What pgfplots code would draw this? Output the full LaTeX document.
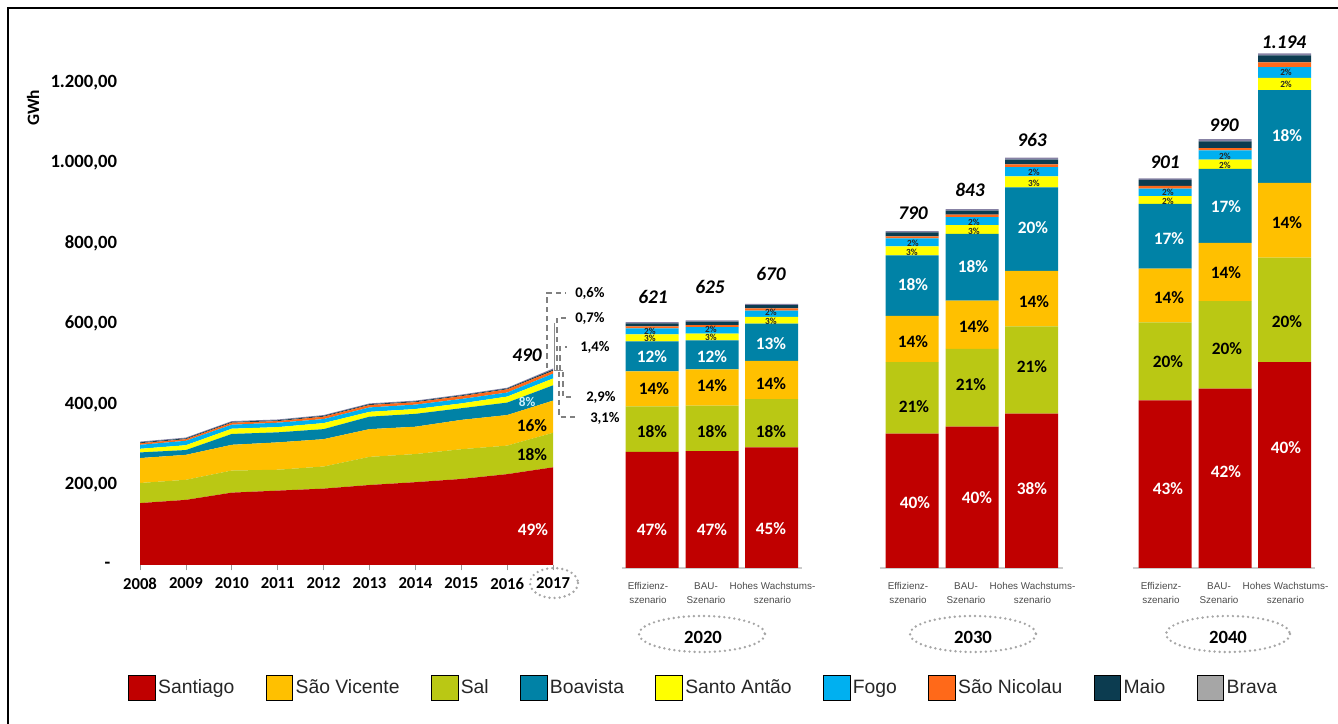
\documentclass[border=0pt]{standalone}
\usepackage{pgfplots}
\pgfplotsset{compat=1.18}
\usepackage{pgfplotstable}
\usepackage{fontspec}
\setmainfont{Carlito}
\newfontfamily\arial{Liberation Sans}

\definecolor{cSant}{RGB}{192,0,0}
\definecolor{cSV}{RGB}{255,192,0}
\definecolor{cSal}{RGB}{186,200,20}
\definecolor{cBoa}{RGB}{0,130,166}
\definecolor{cSA}{RGB}{255,255,0}
\definecolor{cFogo}{RGB}{0,176,240}
\definecolor{cSN}{RGB}{255,105,25}
\definecolor{cMaio}{RGB}{12,60,80}
\definecolor{cBrava}{RGB}{166,166,166}
\definecolor{cBravaBar}{RGB}{135,130,165}

% historic consumption 2008-2017 (x = year - 2008), GWh
\pgfplotstableread{
x sant sal sv boa sa fogo sn maio brava
0 154 50 62 14 9  10 4 2 2
1 162 50 62 12 12 11 4 2 2
2 180 55 64 27 13 10 5 2 2
3 185 52 68 25 13 11 4 2 2
4 190 55 68 25 15 10 6 2 2
5 199 70 69 31 12 11 6 2 2
6 206 70 68 32 12 11 6 2 2
7 214 74 73 29 12 11 7 2 2
8 226 71 76 31 15 10 8 2 2
9 243 86 80 38 17 12 7 3 3
}\areadata

% scenarios 2020 / 2030 / 2040 (Effizienz, BAU, Hohes Wachstum)
\pgfplotstableread{
x      sant sal sv  boa sa fogo sn  maio brava
11.155 289  113 87  75  17 15   5   7.5  3.3
12.462 291  113 90  72  17 16   5   9    3.3
13.758 300  120 95  93  17 15   6   8    3.3
16.819 334  178 115 151 22 20   5   10   3.3
18.126 352  193 120 166 22 20   6   10   4
19.423 384  217 138 208 27 23   7   12   5
22.331 417  194 134 161 19 19   6.5 15   4
23.638 446  218 145 184 23 23   5.5 17   5.5
24.935 512  260 186 231 30 27   12  17   5.5
}\bardata

\pgfplotsset{
  base/.style={scale only axis, width=881.3pt, height=388.9pt,
    xmin=0, xmax=25.6, ymin=0, ymax=1290, anchor=south west},
}

\begin{document}
\begin{tikzpicture}
\path[use as bounding box] (0,0) rectangle (1003.5pt,543pt);

% historic stacked area
\begin{axis}[base, at={(105pt,119.25pt)},
  stack plots=y,
  axis x line=bottom, axis y line=left,
  axis line style={draw=none,-},
  tick align=outside,
  xtick={0,...,9},
  xticklabels={2008,2009,2010,2011,2012,2013,2014,2015,2016,2017},
  ytick={0,200,...,1200},
  yticklabels={{-\hspace*{5pt}},{200,00},{400,00},{600,00},{800,00},{1.000,00},{1.200,00}},
  ytick style={draw=none},
  xtick style={draw=black!40, line width=0.6pt},
  major tick length=4pt,
  x tick label style={font=\bfseries\fontsize{12.5}{14}\selectfont, yshift=-2pt},
  y tick label style={font=\bfseries\fontsize{14}{16}\selectfont, anchor=east, inner sep=0pt, xshift=-13pt},
]
\addplot[fill=cSant, draw=none] table[x=x, y=sant] {\areadata} \closedcycle;
\addplot[fill=cSal, draw=none] table[x=x, y=sal] {\areadata} \closedcycle;
\addplot[fill=cSV, draw=none] table[x=x, y=sv] {\areadata} \closedcycle;
\addplot[fill=cBoa, draw=none] table[x=x, y=boa] {\areadata} \closedcycle;
\addplot[fill=cSA, draw=none] table[x=x, y=sa] {\areadata} \closedcycle;
\addplot[fill=cFogo, draw=none] table[x=x, y=fogo] {\areadata} \closedcycle;
\addplot[fill=cSN, draw=none] table[x=x, y=sn] {\areadata} \closedcycle;
\addplot[fill=cMaio, draw=none] table[x=x, y=maio] {\areadata} \closedcycle;
\addplot[fill=cBravaBar, draw=none] table[x=x, y=brava] {\areadata} \closedcycle;
\draw[black!40, line width=0.6pt] (axis cs:0,0) -- (axis cs:9,0);
\end{axis}

% scenario stacked bars
\begin{axis}[base, at={(105pt,117pt)}, hide axis, clip=false,
  ybar stacked, bar width=1.155]
\addplot[fill=cSant, draw=none] table[x=x, y=sant] {\bardata};
\addplot[fill=cSal, draw=none] table[x=x, y=sal] {\bardata};
\addplot[fill=cSV, draw=none] table[x=x, y=sv] {\bardata};
\addplot[fill=cBoa, draw=none] table[x=x, y=boa] {\bardata};
\addplot[fill=cSA, draw=none] table[x=x, y=sa] {\bardata};
\addplot[fill=cFogo, draw=none] table[x=x, y=fogo] {\bardata};
\addplot[fill=cSN, draw=none] table[x=x, y=sn] {\bardata};
\addplot[fill=cMaio, draw=none] table[x=x, y=maio] {\bardata};
\addplot[fill=cBravaBar, draw=none] table[x=x, y=brava] {\bardata};
\draw[black!20, line width=0.8pt] (axis cs:10.5,0) -- (axis cs:14.42,0);
\draw[black!20, line width=0.8pt] (axis cs:16.12,0) -- (axis cs:20.11,0);
\draw[black!20, line width=0.8pt] (axis cs:21.63,0) -- (axis cs:25.6,0);
\end{axis}

% legend
\begin{axis}[base, at={(105pt,119.25pt)}, hide axis,
  legend columns=9,
  legend image code/.code={\fill[#1] (0pt,-9.5pt) rectangle (20pt,9.5pt);},
  legend style={at={(0,0)}, anchor=west, xshift=-9pt, yshift=-92pt,
    draw=none, fill=none, inner sep=0pt,
    font=\arial\fontsize{14.5}{16}\selectfont, text=black!85,
    /tikz/every even column/.append style={column sep=21.5pt}},
]
\addplot[draw=none, forget plot] coordinates {(0,0)};
\addlegendimage{fill=cSant}\addlegendentry{Santiago}
\addlegendimage{fill=cSV}\addlegendentry{São Vicente}
\addlegendimage{fill=cSal}\addlegendentry{Sal}
\addlegendimage{fill=cBoa}\addlegendentry{Boavista}
\addlegendimage{fill=cSA}\addlegendentry{Santo Antão}
\addlegendimage{fill=cFogo}\addlegendentry{Fogo}
\addlegendimage{fill=cSN}\addlegendentry{São Nicolau}
\addlegendimage{fill=cMaio}\addlegendentry{Maio}
\addlegendimage{fill=cBrava}\addlegendentry{Brava}
\end{axis}

% annotations, in pixel coordinates of the 1338x724 frame
\begin{scope}[x=0.75pt, y=-0.75pt, yshift=543pt,
  w/.style={font=\bfseries\fontsize{13}{15}\selectfont, text=white, inner sep=0pt},
  k/.style={font=\bfseries\fontsize{13}{15}\selectfont, text=black, inner sep=0pt},
  s/.style={font=\bfseries\fontsize{7}{8}\selectfont, text=black!85, inner sep=0pt},
  tot/.style={font=\bfseries\itshape\fontsize{14.5}{16}\selectfont, inner sep=0pt},
  call/.style={font=\bfseries\fontsize{11}{13}\selectfont, anchor=west, inner sep=0pt},
  scen/.style={font=\arial\fontsize{7.4}{10.5}\selectfont, text=black!70, align=center, inner sep=0pt},
  oval/.style={black!35, line width=2pt, dash pattern=on 0pt off 3.8pt, line cap=round},
  yr/.style={font=\bfseries\fontsize{14}{16}\selectfont, inner sep=0pt}]
\draw[line width=1.5pt] (8,724) -- (8,8) -- (1338,8);
\node[rotate=90, font=\bfseries\fontsize{13}{15}\selectfont] at (33,108) {GWh};

% area labels
\node[w] at (533,530) {49\%};
\node[k] at (532,455) {18\%};
\node[k] at (532,426) {16\%};
\node[font=\bfseries\fontsize{10}{12}\selectfont, text=white!80!cFogo, inner sep=0pt] at (527,402) {8\%};
\node[tot] at (527,355) {490};

% call-outs 2017
\begin{scope}[black!50, line width=0.9pt, dash pattern=on 4pt off 3pt]
\draw (547,368) -- (547,293) -- (566,293);
\draw (557,370) -- (557,318) -- (566,318);
\draw (560,370) -- (560,347) -- (567,347);
\draw (563,372) -- (563,397) -- (574,397);
\draw (559,372) -- (559,417) -- (578,417);
\end{scope}
\draw[black!45, line width=0.7pt] (554,323) -- (554,370) -- (563,370);
\node[call] at (575,293) {0,6\%};
\node[call] at (575,318) {0,7\%};
\node[call] at (580,347) {1,4\%};
\node[call] at (586,397) {2,9\%};
\node[call] at (590,418) {3,1\%};

% 2020
\node[w] at (652,530) {47\%}; \node[k] at (652,432) {18\%}; \node[k] at (654,389) {14\%};
\node[w] at (652,357) {12\%}; \node[s] at (650,338) {3\%}; \node[s] at (650,331) {2\%};
\node[w] at (712,530) {47\%}; \node[k] at (712,432) {18\%}; \node[k] at (712,386) {14\%};
\node[w] at (712,357) {12\%}; \node[s] at (711,337) {3\%}; \node[s] at (711,329) {2\%};
\node[w] at (771,529) {45\%}; \node[k] at (771,432) {18\%}; \node[k] at (771,384) {14\%};
\node[w] at (771,344) {13\%}; \node[s] at (771,321) {3\%}; \node[s] at (771,312) {2\%};
\node[tot] at (653,297) {621};
\node[tot] at (710,287) {625};
\node[tot] at (771,274) {670};

% 2030
\node[w] at (915,503) {40\%}; \node[k] at (914,407) {21\%}; \node[k] at (913,342) {14\%};
\node[w] at (913,285) {18\%}; \node[s] at (912,252) {3\%}; \node[s] at (913,243) {2\%};
\node[w] at (977,498) {40\%}; \node[k] at (971,385) {21\%}; \node[k] at (974,327) {14\%};
\node[w] at (973,267) {18\%}; \node[s] at (974,231) {3\%}; \node[s] at (974,222) {2\%};
\node[w] at (1032,489) {38\%}; \node[k] at (1032,367) {21\%}; \node[k] at (1034,302) {14\%};
\node[w] at (1033,228) {20\%}; \node[s] at (1034,183) {3\%}; \node[s] at (1034,172) {2\%};
\node[tot] at (913,213) {790};
\node[tot] at (970,190) {843};
\node[tot] at (1032,140) {963};

% 2040
\node[w] at (1168,489) {43\%}; \node[k] at (1168,362) {20\%}; \node[k] at (1169,298) {14\%};
\node[w] at (1169,239) {17\%}; \node[s] at (1168,201) {2\%}; \node[s] at (1168,192) {2\%};
\node[w] at (1226,472) {42\%}; \node[k] at (1227,349) {20\%}; \node[k] at (1226,273) {14\%};
\node[w] at (1226,207) {17\%}; \node[s] at (1225,165) {2\%}; \node[s] at (1225,156) {2\%};
\node[w] at (1286,448) {40\%}; \node[k] at (1287,322) {20\%}; \node[k] at (1287,223) {14\%};
\node[w] at (1287,136) {18\%}; \node[s] at (1286,84) {2\%}; \node[s] at (1286,72) {2\%};
\node[tot] at (1165,162) {901};
\node[tot] at (1224,125) {990};
\node[tot] at (1284,42) {1.194};

% scenario names
\foreach \c in {652,912,1165} {\node[scen] at (\c-4,593) {Effizienz-\\szenario};}
\foreach \c in {712,972,1225} {\node[scen] at (\c-6,593) {BAU-\\Szenario};}
\foreach \c in {771.5,1031.5,1284.5} {\node[scen] at (\c+1,593) {Hohes Wachstums-\\szenario};}

% year ovals
\draw[oval] (554,583) ellipse [x radius=24, y radius=15];
\draw[oval] (702,634) ellipse [x radius=63, y radius=18];
\draw[oval] (973,634) ellipse [x radius=63, y radius=18];
\draw[oval] (1228,634) ellipse [x radius=62, y radius=18];
\node[yr] at (703,637) {2020};
\node[yr] at (973,637) {2030};
\node[yr] at (1228,637) {2040};
\end{scope}
\end{tikzpicture}
\end{document}
